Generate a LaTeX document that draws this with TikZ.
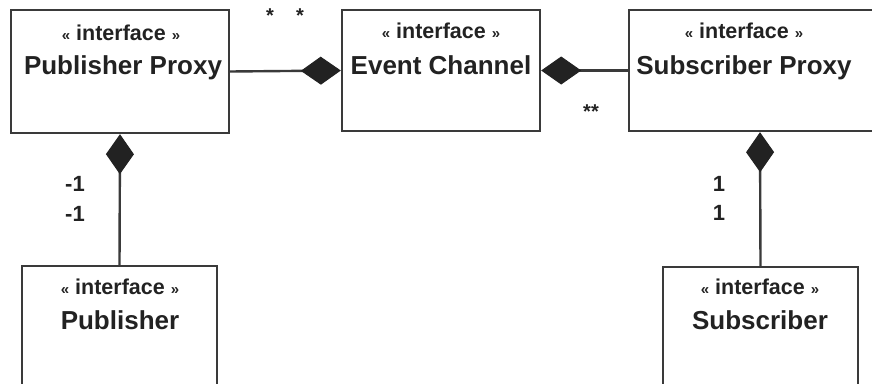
\documentclass[tikz,border=0pt]{standalone}
\usepackage{fontspec}
\setmainfont{Liberation Sans}
\usetikzlibrary{arrows.meta}
\definecolor{ink}{HTML}{222222}
\definecolor{wire}{HTML}{3A3A3A}
\newcommand{\umlstereo}{{\fontsize{15}{15}\selectfont«}\hspace{6pt}interface\hspace{6pt}{\fontsize{15}{15}\selectfont»}}
\tikzset{
  classbox/.style={draw=wire, line width=2.4pt, fill=white, rectangle, inner sep=0pt},
  stereotext/.style={anchor=base, text=ink, font=\fontsize{21.5}{21.5}\selectfont\bfseries},
  nametext/.style={anchor=base, text=ink, font=\fontsize{26}{26}\selectfont\bfseries},
  multtext/.style={anchor=base, text=ink, font=\fontsize{22}{22}\selectfont\bfseries},
  startext/.style={anchor=base, text=ink, font=\fontsize{20}{20}\selectfont\bfseries, inner sep=0pt},
  composition/.style={draw=wire, line width=2.4pt,
    {Diamond[length=40pt,width=28pt,color=ink,fill=ink,line width=1pt]}-}
}
\begin{document}
\begin{tikzpicture}[x=1pt,y=-1pt]
\useasboundingbox (0,0) rectangle (872,383);
\clip (0,0) rectangle (872,383);
\fill[white] (0,0) rectangle (872,383);

% class boxes
\node[classbox, minimum width=218pt, minimum height=123pt] (pp)  at (120,71.5) {};
\node[classbox, minimum width=198pt, minimum height=121pt] (ec)  at (441,70.5) {};
\node[classbox, minimum width=262pt, minimum height=121pt] (sp)  at (760,70.5) {};
\node[classbox, minimum width=195pt, minimum height=134pt] (pub) at (119.5,333) {};
\node[classbox, minimum width=195pt, minimum height=134pt] (sub) at (760.5,334) {};

% class labels
\node[stereotext] (ppS)  at (121,40)  {\umlstereo};
\node[nametext]   (ppN)  at (123,74)  {Publisher Proxy};
\node[stereotext] (ecS)  at (441,38)  {\umlstereo};
\node[nametext]   (ecN)  at (441,74)  {Event Channel};
\node[stereotext] (spS)  at (744,38)  {\umlstereo};
\node[nametext]   (spN)  at (744,74)  {Subscriber Proxy};
\node[stereotext] (pubS) at (120,294) {\umlstereo};
\node[nametext]   (pubN) at (120,329) {Publisher};
\node[stereotext] (subS) at (760,294) {\umlstereo};
\node[nametext]   (subN) at (760,329) {Subscriber};

% composition associations
\draw[composition] (ec.west)  -- (pp.east);
\draw[composition] (ec.east)  -- (sp.west);
\draw[composition] (pp.south) -- (pub.north);
\draw[composition] (sp.south) -- (sub.north);

% multiplicities
\node[startext] (m1) at (270,22)  {*};
\node[startext] (m2) at (300,22)  {*};
\node[startext] (m3) at (591,118) {**};
\node[multtext] (m4) at (75,191)  {-1};
\node[multtext] (m5) at (75,221)  {-1};
\node[multtext] (m6) at (719,191) {1};
\node[multtext] (m7) at (719,220) {1};
\end{tikzpicture}
\end{document}
